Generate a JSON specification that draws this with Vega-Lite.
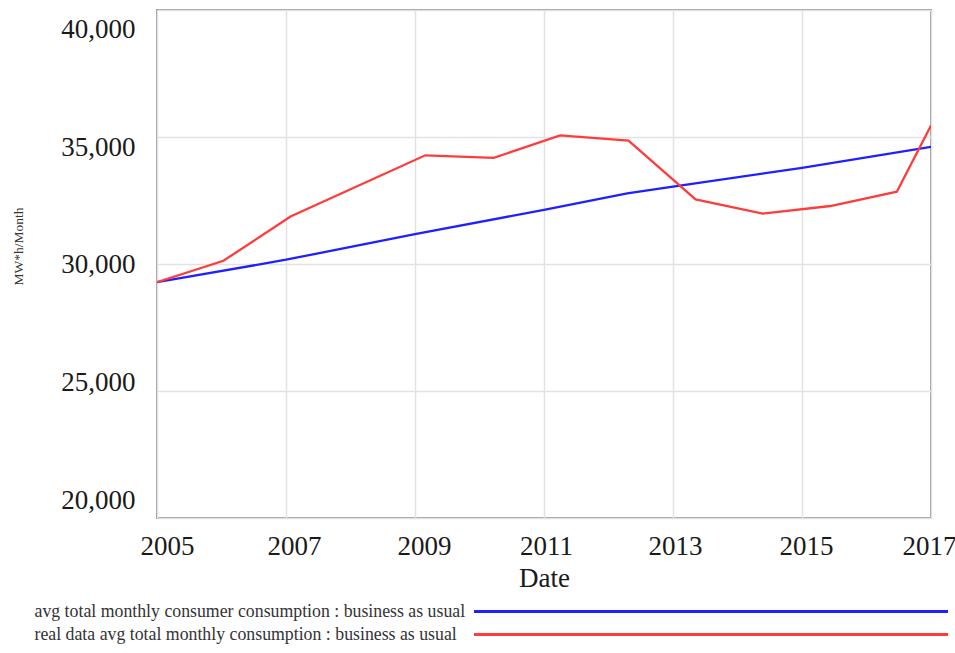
{
  "$schema": "https://vega.github.io/schema/vega-lite/v6.json",
  "width": 774,
  "height": 508,
  "autosize": {"type": "none"},
  "padding": {"left": 157, "top": 10, "right": 24, "bottom": 135},
  "background": "white",
  "config": {
    "view": {"stroke": "#9a9a9a", "strokeWidth": 2},
    "font": "Liberation Serif"
  },
  "data": {
    "values": [
      {"series": "avg total monthly consumer consumption : business as usual", "year": 2005.0, "value": 29283},
      {"series": "avg total monthly consumer consumption : business as usual", "year": 2007.0, "value": 30168},
      {"series": "avg total monthly consumer consumption : business as usual", "year": 2009.0, "value": 31175},
      {"series": "avg total monthly consumer consumption : business as usual", "year": 2011.0, "value": 32130},
      {"series": "avg total monthly consumer consumption : business as usual", "year": 2012.29, "value": 32780},
      {"series": "avg total monthly consumer consumption : business as usual", "year": 2013.0, "value": 33042},
      {"series": "avg total monthly consumer consumption : business as usual", "year": 2015.0, "value": 33786},
      {"series": "avg total monthly consumer consumption : business as usual", "year": 2017.0, "value": 34608},
      {"series": "real data avg total monthly consumption : business as usual", "year": 2005.0, "value": 29283},
      {"series": "real data avg total monthly consumption : business as usual", "year": 2006.03, "value": 30129},
      {"series": "real data avg total monthly consumption : business as usual", "year": 2007.07, "value": 31868},
      {"series": "real data avg total monthly consumption : business as usual", "year": 2009.16, "value": 34280},
      {"series": "real data avg total monthly consumption : business as usual", "year": 2010.22, "value": 34178},
      {"series": "real data avg total monthly consumption : business as usual", "year": 2011.25, "value": 35063},
      {"series": "real data avg total monthly consumption : business as usual", "year": 2012.31, "value": 34855},
      {"series": "real data avg total monthly consumption : business as usual", "year": 2013.35, "value": 32545},
      {"series": "real data avg total monthly consumption : business as usual", "year": 2014.39, "value": 31985},
      {"series": "real data avg total monthly consumption : business as usual", "year": 2015.44, "value": 32283},
      {"series": "real data avg total monthly consumption : business as usual", "year": 2016.47, "value": 32846},
      {"series": "real data avg total monthly consumption : business as usual", "year": 2017.0, "value": 35455}
    ]
  },
  "mark": {"type": "line", "strokeWidth": 2.3, "clip": true},
  "encoding": {
    "x": {
      "field": "year",
      "type": "quantitative",
      "scale": {"domain": [2005, 2017], "nice": false, "zero": false},
      "axis": {
        "values": [2005, 2007, 2009, 2011, 2013, 2015, 2017],
        "format": "d",
        "title": "Date",
        "grid": true,
        "gridColor": "#e2e2e2",
        "gridWidth": 1.5,
        "domain": false,
        "ticks": false,
        "labelFont": "Liberation Serif",
        "labelFontSize": 27,
        "labelColor": "#1a1a1a",
        "labelPadding": 15,
        "labelFlush": false,
        "labelOverlap": false,
        "labelOffset": {
          "condition": [
            {"test": "datum.value == 2005", "value": 10},
            {"test": "datum.value == 2007", "value": 8},
            {"test": "datum.value == 2009", "value": 9},
            {"test": "datum.value == 2011", "value": 2},
            {"test": "datum.value == 2013", "value": 2},
            {"test": "datum.value == 2015", "value": 4},
            {"test": "datum.value == 2017", "value": -2}
          ],
          "value": 0
        },
        "titleFont": "Liberation Serif",
        "titleFontSize": 27,
        "titleFontWeight": "normal",
        "titleColor": "#1a1a1a",
        "titlePadding": 6
      }
    },
    "y": {
      "field": "value",
      "type": "quantitative",
      "scale": {"domain": [20000, 40000], "nice": false, "zero": false},
      "axis": {
        "values": [20000, 25000, 30000, 35000, 40000],
        "format": ",d",
        "title": "MW*h/Month",
        "grid": true,
        "gridColor": "#e2e2e2",
        "gridWidth": 1.5,
        "domain": false,
        "ticks": false,
        "labelFont": "Liberation Serif",
        "labelFontSize": 27,
        "labelColor": "#1a1a1a",
        "labelPadding": 22,
        "labelFlush": false,
        "labelOverlap": false,
        "labelOffset": {
          "condition": [
            {"test": "datum.value == 40000", "value": 19},
            {"test": "datum.value == 35000", "value": 10},
            {"test": "datum.value == 25000", "value": -9},
            {"test": "datum.value == 20000", "value": -18}
          ],
          "value": 0
        },
        "titleFont": "Liberation Serif",
        "titleFontSize": 13.5,
        "titleFontWeight": "normal",
        "titleColor": "#333333",
        "titleAngle": -90,
        "titleAlign": "center",
        "titleBaseline": "middle",
        "titleX": -139,
        "titleY": 236
      }
    },
    "color": {
      "field": "series",
      "type": "nominal",
      "scale": {
        "domain": ["avg total monthly consumer consumption : business as usual", "real data avg total monthly consumption : business as usual"],
        "range": ["#2020ff", "#ff3c3c"]
      },
      "legend": {
        "orient": "none",
        "legendX": -122,
        "legendY": 590,
        "title": null,
        "padding": 0,
        "rowPadding": 2,
        "symbolType": "M0,0L47.4,0",
        "symbolSize": 400,
        "symbolStrokeWidth": 3,
        "symbolOffset": 427.5,
        "labelOffset": -451,
        "labelAlign": "left",
        "labelLimit": 0,
        "labelFont": "Liberation Serif",
        "labelFontSize": 17.8,
        "labelColor": "#333333"
      }
    }
  }
}
